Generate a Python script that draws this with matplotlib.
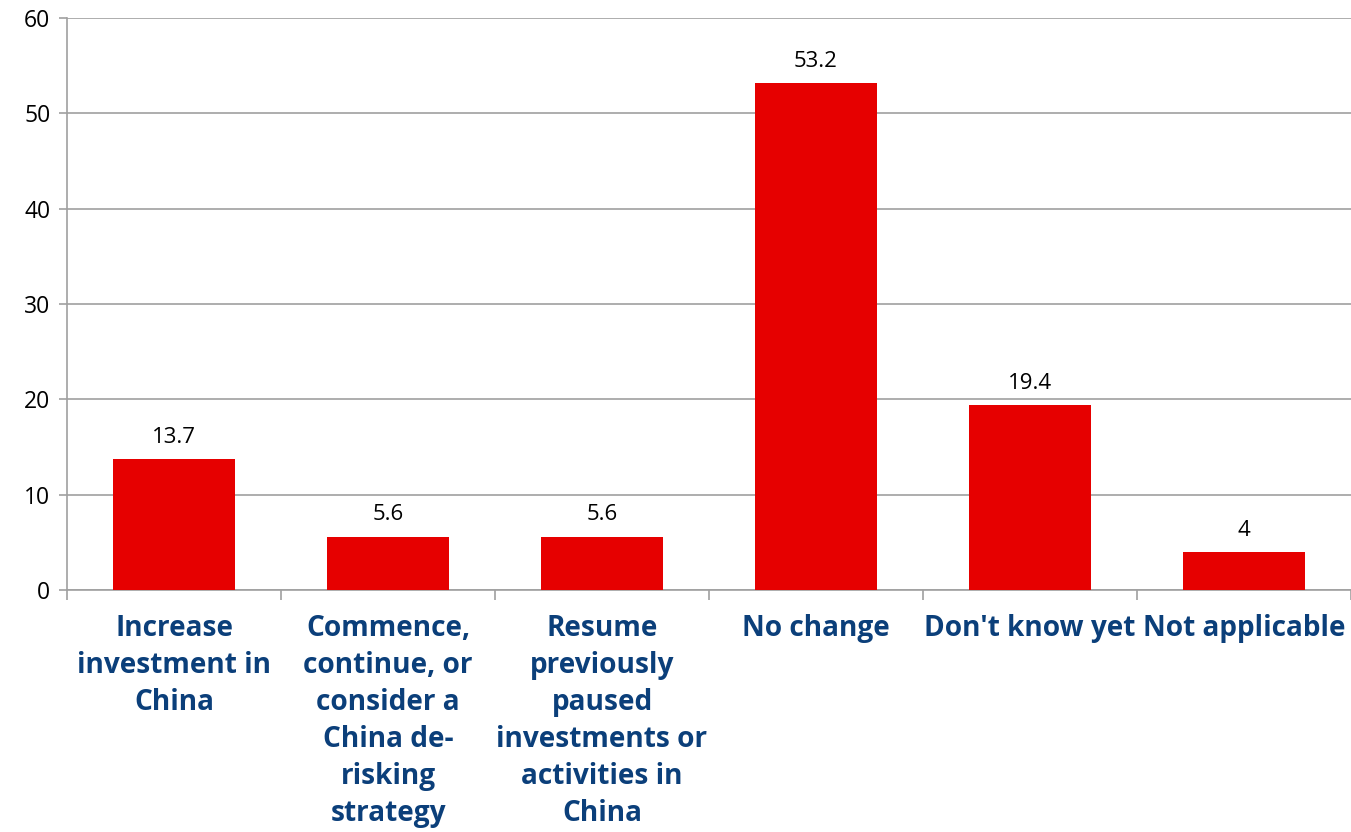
import matplotlib
matplotlib.use('Agg')
import matplotlib.pyplot as plt

# Survey responses (%) by planned action
categories = [
    'Increase\ninvestment in\nChina',
    'Commence,\ncontinue, or\nconsider a\nChina de-\nrisking\nstrategy',
    'Resume\npreviously\npaused\ninvestments or\nactivities in\nChina',
    'No change',
    "Don't know yet",
    'Not applicable',
]
values = [13.7, 5.6, 5.6, 53.2, 19.4, 4]
value_labels = ['13.7', '5.6', '5.6', '53.2', '19.4', '4']
y_ticks = [0, 10, 20, 30, 40, 50, 60]

plt.rcParams['font.family'] = ['Open Sans', 'DejaVu Sans']

fig = plt.figure(figsize=(13.51, 8.32), dpi=100)
ax = fig.add_axes([0.0496, 0.2909, 0.9504, 0.6875])

x = list(range(len(categories)))
bars = ax.bar(x, values, width=0.57, color='#E60000', zorder=3)

for rect, lab in zip(bars, value_labels):
    ax.annotate(lab, (rect.get_x() + rect.get_width() / 2, rect.get_height()),
                xytext=(0, 8), textcoords='offset points',
                ha='center', va='bottom', fontsize=16, color='black')

ax.set_xlim(-0.5, len(categories) - 0.5)
ax.set_ylim(0, 60)
ax.set_yticks(y_ticks)
ax.tick_params(axis='y', labelsize=16.5, length=6, width=1.2, color='#A0A0A0', pad=6)

# category labels centred under bars, ticks at slot boundaries
ax.set_xticks(x)
ax.set_xticklabels(categories, fontsize=20.2, fontweight='bold', color='#0B3F7A',
                   linespacing=1.37)
ax.tick_params(axis='x', length=0, pad=17)
ax.set_xticks([i - 0.5 for i in range(len(categories) + 1)], minor=True)
ax.tick_params(axis='x', which='minor', length=7, width=1.2, color='#A0A0A0')

ax.grid(axis='y', color='#A0A0A0', linewidth=1.2, zorder=0)
for side in ['top', 'right']:
    ax.spines[side].set_visible(False)
for side in ['left', 'bottom']:
    ax.spines[side].set_color('#A0A0A0')
    ax.spines[side].set_linewidth(1.2)

fig.savefig('out.png', dpi=100, facecolor='white')
plt.close(fig)
